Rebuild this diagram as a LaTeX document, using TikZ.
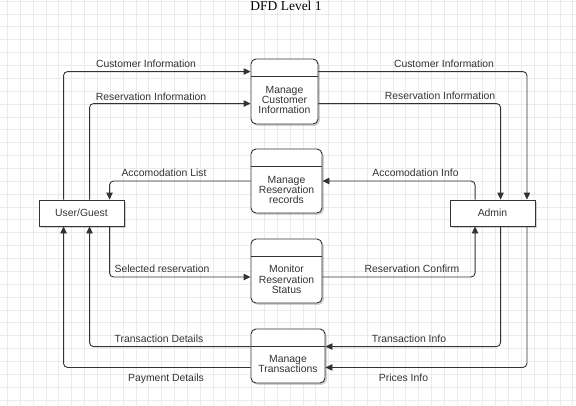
\documentclass[tikz,border=0pt]{standalone}
\usepackage{fontspec}
\setmainfont{Liberation Sans}
\newfontfamily\titlefont{Liberation Serif}
\usetikzlibrary{arrows.meta,shadows}
\definecolor{gridc}{HTML}{EBEBEB}
\definecolor{linec}{HTML}{333333}
\definecolor{textc}{HTML}{333333}
\begin{document}
\begin{tikzpicture}[x=1pt,y=-1pt,
  every node/.style={font=\fontsize{10.4}{10.3}\selectfont, text=textc},
  boxshadow/.style={drop shadow={shadow xshift=1.8pt, shadow yshift=-1.8pt, opacity=0.18, fill=black}},
  ext/.style={draw=linec, fill=white, line width=0.9pt, minimum width=85pt, minimum height=26pt, inner sep=0pt, boxshadow},
  proc/.style={draw=linec, fill=white, line width=0.9pt, rounded corners=5pt, inner sep=0pt, boxshadow},
  ptext/.style={align=center, inner sep=0pt},
  divider/.style={draw=linec, line width=0.9pt},
  flow/.style={draw=linec, line width=0.9pt, rounded corners=4pt, -{Triangle[length=7pt,width=6.5pt]}},
  lbl/.style={anchor=base, inner sep=0pt},
  gridline/.style={draw=gridc, line width=0.8pt}
]
\useasboundingbox (0,0) rectangle (576,405);
\fill[white] (0,0) rectangle (576,405);
% grid
\foreach \i in {0,...,44} \draw[gridline] (7.4+12.85*\i,0) -- (7.4+12.85*\i,405);
\foreach \j in {0,...,31} \draw[gridline] (0,1.1+12.87*\j) -- (576,1.1+12.87*\j);

% title
\node[anchor=base, inner sep=0pt, font=\titlefont\fontsize{13.5}{14}\selectfont, text=black] (title) at (286,10.7) {DFD Level 1};

% external entities
\node[ext] (user) at (81.5,213) {User/Guest};
\node[ext] (admin) at (492.5,213) {Admin};

% processes
\node[proc, minimum width=67pt, minimum height=65pt] (mci) at (284.5,91.5) {};
\node[proc, minimum width=71pt, minimum height=64pt] (mrr) at (286.5,181) {};
\node[proc, minimum width=71pt, minimum height=64pt] (mrs) at (286.5,271) {};
\node[proc, minimum width=74pt, minimum height=54pt] (mt) at (288,356) {};

\foreach \p in {mci,mrr,mrs,mt}
  \draw[divider] ([yshift=-18pt]\p.north west) -- ([yshift=-18pt]\p.north east);

\node[ptext] (mcit) at (284.5,100) {Manage\\Customer\\Information};
\node[ptext] (mrrt) at (286.5,190) {Manage\\Reservation\\records};
\node[ptext] (mrst) at (286.5,279.5) {Monitor\\Reservation\\Status};
\node[ptext] (mtt) at (288,364.3) {Manage\\Transactions};

% flows, left side
\draw[flow] ([xshift=25pt]user.north west) |- ([yshift=-13pt]mci.north west);
\draw[flow] ([xshift=51pt]user.north west) |- ([yshift=-45pt]mci.north west);
\draw[flow] (mrr.west) -| ([xshift=71pt]user.north west);
\draw[flow] ([xshift=71pt]user.south west) |- ([yshift=-6pt]mrs.west);
\draw[flow] ([yshift=-18pt]mt.north west) -| ([xshift=51pt]user.south west);
\draw[flow] ([yshift=16pt]mt.south west) -| ([xshift=25pt]user.south west);

% flows, right side
\draw[flow] ([yshift=-13pt]mci.north east) -| ([xshift=-8.5pt]admin.north east);
\draw[flow] ([yshift=-45pt]mci.north east) -| ([xshift=51pt]admin.north west);
\draw[flow] ([xshift=25.5pt]admin.north west) |- (mrr.east);
\draw[flow] ([yshift=-6pt]mrs.east) -| ([xshift=25.5pt]admin.south west);
\draw[flow] ([xshift=51pt]admin.south west) |- ([yshift=-18pt]mt.north east);
\draw[flow] ([xshift=-8.5pt]admin.south east) |- ([yshift=16pt]mt.south east);

% labels
\node[lbl] (l1) at (146,67.5) {Customer Information};
\node[lbl] (l2) at (151,100) {Reservation Information};
\node[lbl] (l3) at (444,67.5) {Customer Information};
\node[lbl] (l4) at (440,99.5) {Reservation Information};
\node[lbl] (l5) at (164,176.7) {Accomodation List};
\node[lbl] (l6) at (415.5,176.2) {Accomodation Info};
\node[lbl] (l7) at (162,272.3) {Selected reservation};
\node[lbl] (l8) at (412,272.3) {Reservation Confirm};
\node[lbl] (l9) at (159,342.7) {Transaction Details};
\node[lbl] (l10) at (409,342.7) {Transaction Info};
\node[lbl] (l11) at (166,381.3) {Payment Details};
\node[lbl] (l12) at (403.5,381.7) {Prices Info};
\end{tikzpicture}
\end{document}
